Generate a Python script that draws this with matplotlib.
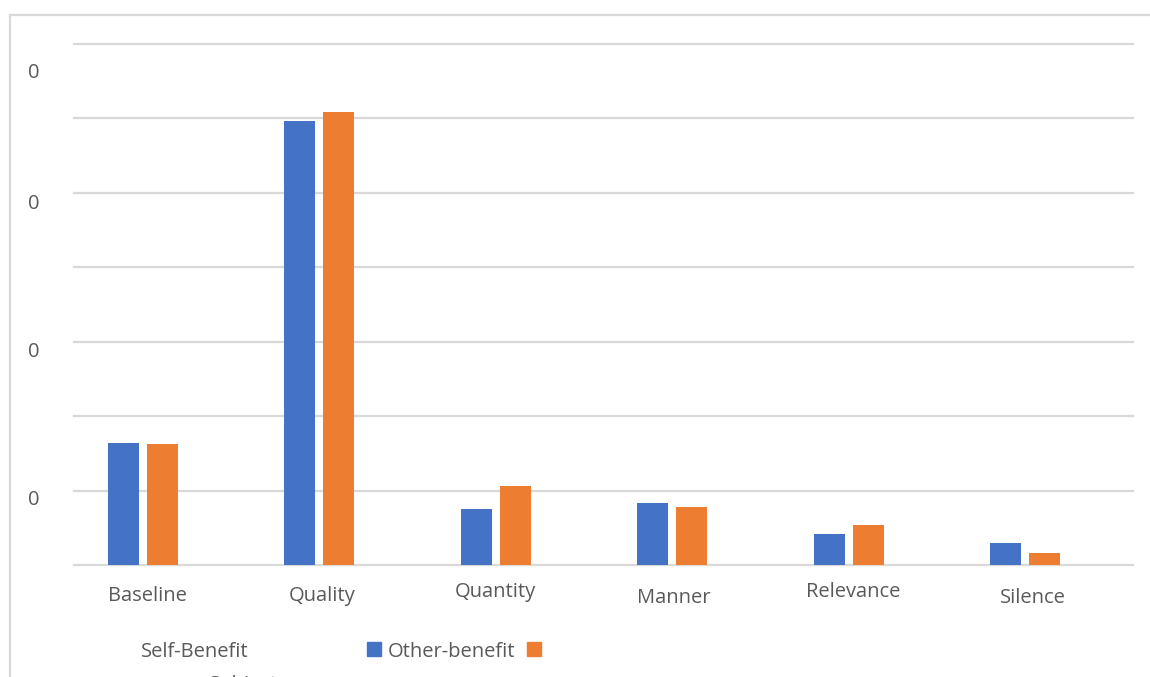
import numpy as np
import matplotlib
matplotlib.use("Agg")
import matplotlib.pyplot as plt
from matplotlib.patches import Rectangle
from matplotlib.lines import Line2D
from matplotlib.transforms import offset_copy, blended_transform_factory

plt.rcParams['font.family'] = ['Open Sans', 'DejaVu Sans']

# data (grid units)
categories = ['Baseline', 'Quality', 'Quantity', 'Manner', 'Relevance', 'Silence']
self_benefit = [1.64, 5.97, 0.75, 0.83, 0.42, 0.30]
other_benefit = [1.63, 6.08, 1.06, 0.78, 0.54, 0.16]
ytick_pos = [0.91, 2.90, 4.89, 6.64]
ytick_labels = ['0', '0', '0', '0']

blue = '#4472C4'
orange = '#ED7D31'
txt = '#595959'
grid = '#D9D9D9'
fs = 14.5

W, H = 1150, 677
fig = plt.figure(figsize=(W / 100, H / 100), dpi=100)
ax = fig.add_axes([74 / W, (H - 565) / H, (1133 - 74) / W, (565 - 44) / H])

x = np.arange(len(categories))
bw = 0.176
ax.bar(x - 0.11, self_benefit, bw, color=blue, zorder=3)
ax.bar(x + 0.11, other_benefit, bw, color=orange, zorder=3)

for g in range(8):
    ax.axhline(g, color=grid, lw=1.6, zorder=1, clip_on=False)

ax.set_xlim(-0.39, 5.61)
ax.set_ylim(0, 7)
for s in ax.spines.values():
    s.set_visible(False)
ax.set_xticks([])
ax.set_yticks(ytick_pos)
ax.set_yticklabels(ytick_labels)
ax.tick_params(axis='y', length=0, pad=25, labelsize=fs, labelcolor=txt)

# category labels, a little uneven vertically
label_dy = [31, 31, 27, 33, 27, 33]
label_dx = [5, 3, 0, 1, 4, 8]
tr = blended_transform_factory(ax.transData, ax.transAxes)
for i, name in enumerate(categories):
    t = offset_copy(tr, fig=fig, x=label_dx[i], y=-label_dy[i], units='dots')
    ax.text(i, 0, name, transform=t, ha='center', va='center',
            fontsize=fs, color=txt)

# legend row at the bottom
def fy(y):
    return (H - y) / H

fig.text(141 / W, fy(652), 'Self-Benefit', fontsize=fs, color=txt, va='center')
fig.patches.append(Rectangle((367 / W, fy(656)), 14 / W, 14 / H,
                             transform=fig.transFigure, color=blue))
fig.text(388 / W, fy(652), 'Other-benefit', fontsize=fs, color=txt, va='center')
fig.patches.append(Rectangle((527 / W, fy(656)), 14 / W, 14 / H,
                             transform=fig.transFigure, color=orange))
fig.text(209 / W, fy(685), 'Subject', fontsize=fs, color=txt, va='center')

# chart frame
fig.lines.append(Line2D([10 / W, 1], [fy(15), fy(15)], transform=fig.transFigure,
                        color=grid, lw=1.6))
fig.lines.append(Line2D([10 / W, 10 / W], [fy(15), 0], transform=fig.transFigure,
                        color=grid, lw=1.6))

fig.savefig('out.png', dpi=100, facecolor='white')
